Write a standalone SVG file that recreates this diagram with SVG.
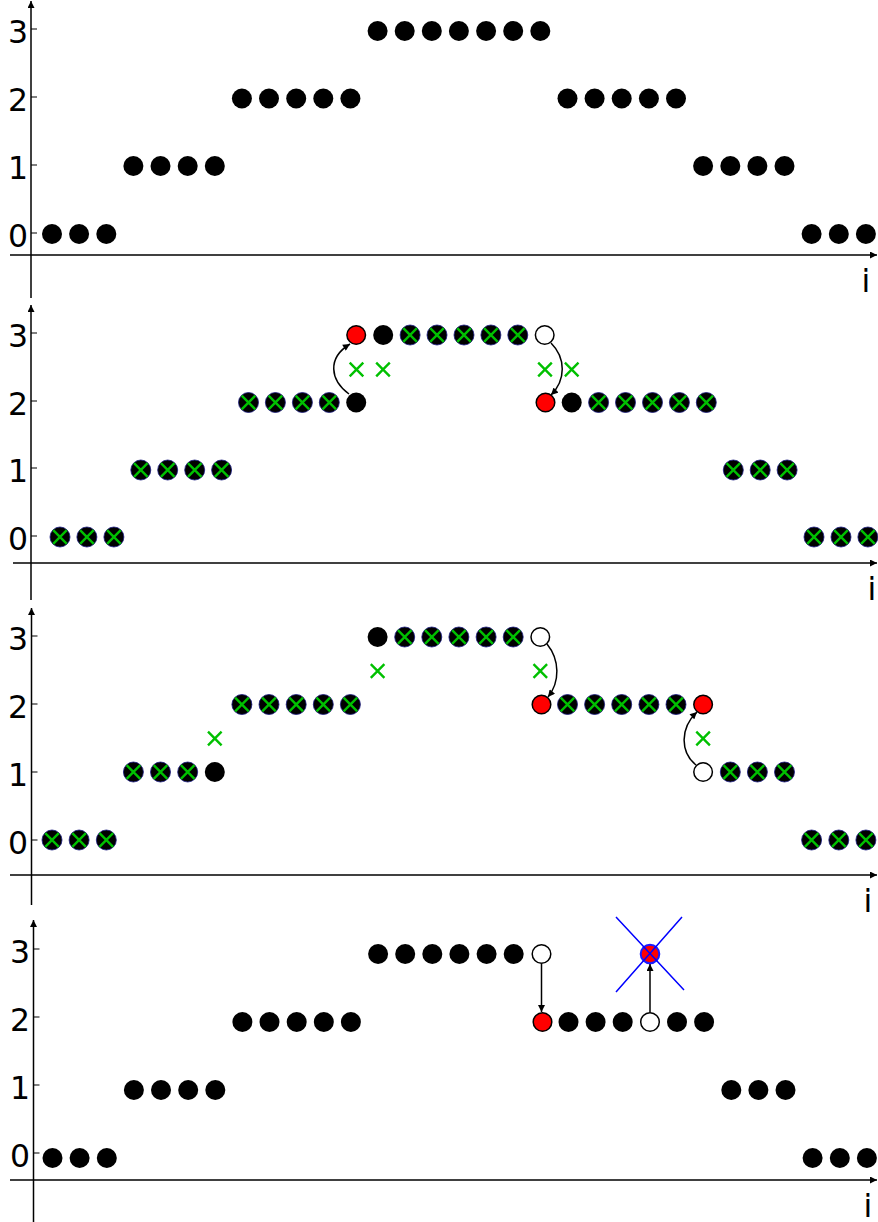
<svg xmlns="http://www.w3.org/2000/svg" xmlns:xlink="http://www.w3.org/1999/xlink" width="878" height="1222" viewBox="0 0 878 1222">
<style>
.ax{stroke:#000;stroke-width:1.5;fill:none}
.tk{stroke:#000;stroke-width:1.2}
.lb{font-family:"DejaVu Sans",sans-serif;font-size:31.5px;fill:#000}
.d{fill:#000}
.dx{fill:#000;stroke:#1a1a80;stroke-width:0.8}
.r{fill:#f00;stroke:#000;stroke-width:1.5}
.w{fill:#fff;stroke:#000;stroke-width:1.5}
.g{stroke:#00c000;stroke-width:2.4;fill:none}
.c{stroke:#000;stroke-width:1.5;fill:none}
</style>
<defs>
<marker id="ah" viewBox="0 0 10 10" refX="10" refY="5" markerWidth="9" markerHeight="7" markerUnits="userSpaceOnUse" orient="auto"><path d="M0,0L10,5L0,10z" fill="#000"/></marker>
<marker id="sa" viewBox="0 0 10 10" refX="10" refY="5" markerWidth="8" markerHeight="7" markerUnits="userSpaceOnUse" orient="auto"><path d="M0,0L10,5L0,10z" fill="#000"/></marker>
<path id="xm" class="g" d="M-6.8,-6.8L6.8,6.8M6.8,-6.8L-6.8,6.8"/>
</defs>

<g id="axes">
<path class="ax" d="M10,255H877" marker-end="url(#ah)"/>
<path class="ax" d="M31,298V1" marker-end="url(#ah)"/>
<path class="ax" d="M13,563H877" marker-end="url(#ah)"/>
<path class="ax" d="M31,600V305" marker-end="url(#ah)"/>
<path class="ax" d="M10,875H877" marker-end="url(#ah)"/>
<path class="ax" d="M31.5,905V608" marker-end="url(#ah)"/>
<path class="ax" d="M10,1180H877" marker-end="url(#ah)"/>
<path class="ax" d="M33.5,1222V920" marker-end="url(#ah)"/>
<path class="tk" d="M31,29h6M31,97h6M31,165h6M31,233h6M31,333h6M31,401h6M31,468h6M31,536h6M31.5,636h6M31.5,704h6M31.5,772h6M31.5,840h6M33.5,949h6M33.5,1017h6M33.5,1085h6M33.5,1153h6"/>
</g>

<g id="labels" class="lb">
<text x="28" y="43" text-anchor="end">3</text>
<text x="28" y="111" text-anchor="end">2</text>
<text x="28" y="179" text-anchor="end">1</text>
<text x="28" y="247" text-anchor="end">0</text>
<text x="866" y="292" text-anchor="middle">i</text>
<text x="28" y="347" text-anchor="end">3</text>
<text x="28" y="415" text-anchor="end">2</text>
<text x="28" y="482" text-anchor="end">1</text>
<text x="28" y="550" text-anchor="end">0</text>
<text x="872" y="600" text-anchor="middle">i</text>
<text x="28" y="650" text-anchor="end">3</text>
<text x="28" y="718" text-anchor="end">2</text>
<text x="28" y="786" text-anchor="end">1</text>
<text x="28" y="854" text-anchor="end">0</text>
<text x="868" y="912" text-anchor="middle">i</text>
<text x="30" y="963" text-anchor="end">3</text>
<text x="30" y="1031" text-anchor="end">2</text>
<text x="30" y="1099" text-anchor="end">1</text>
<text x="30" y="1167" text-anchor="end">0</text>
<text x="868" y="1217" text-anchor="middle">i</text>
</g>

<g id="panel1">
<g id="p1-row0-left"><circle class="d" cx="52" cy="234" r="10"/><circle class="d" cx="79.1" cy="234" r="10"/><circle class="d" cx="106.3" cy="234" r="10"/></g>
<g id="p1-row1-left"><circle class="d" cx="133.4" cy="166" r="10"/><circle class="d" cx="160.5" cy="166" r="10"/><circle class="d" cx="187.7" cy="166" r="10"/><circle class="d" cx="214.8" cy="166" r="10"/></g>
<g id="p1-row2-left"><circle class="d" cx="241.9" cy="98.5" r="10"/><circle class="d" cx="269" cy="98.5" r="10"/><circle class="d" cx="296.2" cy="98.5" r="10"/><circle class="d" cx="323.3" cy="98.5" r="10"/><circle class="d" cx="350.4" cy="98.5" r="10"/></g>
<g id="p1-row3"><circle class="d" cx="377.6" cy="31" r="10"/><circle class="d" cx="404.7" cy="31" r="10"/><circle class="d" cx="431.8" cy="31" r="10"/><circle class="d" cx="458.9" cy="31" r="10"/><circle class="d" cx="486.1" cy="31" r="10"/><circle class="d" cx="513.2" cy="31" r="10"/><circle class="d" cx="540.3" cy="31" r="10"/></g>
<g id="p1-row2-right"><circle class="d" cx="567.5" cy="98.5" r="10"/><circle class="d" cx="594.6" cy="98.5" r="10"/><circle class="d" cx="621.7" cy="98.5" r="10"/><circle class="d" cx="648.9" cy="98.5" r="10"/><circle class="d" cx="676" cy="98.5" r="10"/></g>
<g id="p1-row1-right"><circle class="d" cx="703.1" cy="166" r="10"/><circle class="d" cx="730.3" cy="166" r="10"/><circle class="d" cx="757.4" cy="166" r="10"/><circle class="d" cx="784.5" cy="166" r="10"/></g>
<g id="p1-row0-right"><circle class="d" cx="811.6" cy="234" r="10"/><circle class="d" cx="838.8" cy="234" r="10"/><circle class="d" cx="865.9" cy="234" r="10"/></g>
</g>

<g id="panel2">
<g id="p2-row0-left"><circle class="dx" cx="60" cy="537" r="10"/><use href="#xm" x="60" y="537"/><circle class="dx" cx="86.9" cy="537" r="10"/><use href="#xm" x="86.9" y="537"/><circle class="dx" cx="113.9" cy="537" r="10"/><use href="#xm" x="113.9" y="537"/></g>
<g id="p2-row1-left"><circle class="dx" cx="140.8" cy="470" r="10"/><use href="#xm" x="140.8" y="470"/><circle class="dx" cx="167.7" cy="470" r="10"/><use href="#xm" x="167.7" y="470"/><circle class="dx" cx="194.7" cy="470" r="10"/><use href="#xm" x="194.7" y="470"/><circle class="dx" cx="221.6" cy="470" r="10"/><use href="#xm" x="221.6" y="470"/></g>
<g id="p2-row2-left"><circle class="dx" cx="248.5" cy="402.5" r="10"/><use href="#xm" x="248.5" y="402.5"/><circle class="dx" cx="275.4" cy="402.5" r="10"/><use href="#xm" x="275.4" y="402.5"/><circle class="dx" cx="302.4" cy="402.5" r="10"/><use href="#xm" x="302.4" y="402.5"/><circle class="dx" cx="329.3" cy="402.5" r="10"/><use href="#xm" x="329.3" y="402.5"/></g>
<g id="p2-src-left"><circle class="d" cx="356.2" cy="402.5" r="10"/></g>
<g id="p2-red-left"><circle class="r" cx="356.2" cy="335" r="9.3"/></g>
<g id="p2-row3"><circle class="d" cx="383.2" cy="335" r="10"/><circle class="dx" cx="410.1" cy="335" r="10"/><use href="#xm" x="410.1" y="335"/><circle class="dx" cx="437" cy="335" r="10"/><use href="#xm" x="437" y="335"/><circle class="dx" cx="464" cy="335" r="10"/><use href="#xm" x="464" y="335"/><circle class="dx" cx="490.9" cy="335" r="10"/><use href="#xm" x="490.9" y="335"/><circle class="dx" cx="517.8" cy="335" r="10"/><use href="#xm" x="517.8" y="335"/></g>
<g id="p2-white-right"><circle class="w" cx="544.7" cy="335" r="9.3"/></g>
<g id="p2-red-right"><circle class="r" cx="545.5" cy="402.5" r="9.3"/></g>
<g id="p2-row2-right"><circle class="d" cx="571.7" cy="402.5" r="10"/><circle class="dx" cx="598.6" cy="402.5" r="10"/><use href="#xm" x="598.6" y="402.5"/><circle class="dx" cx="625.5" cy="402.5" r="10"/><use href="#xm" x="625.5" y="402.5"/><circle class="dx" cx="652.5" cy="402.5" r="10"/><use href="#xm" x="652.5" y="402.5"/><circle class="dx" cx="679.4" cy="402.5" r="10"/><use href="#xm" x="679.4" y="402.5"/><circle class="dx" cx="706.3" cy="402.5" r="10"/><use href="#xm" x="706.3" y="402.5"/></g>
<g id="p2-row1-right"><circle class="dx" cx="733.3" cy="470" r="10"/><use href="#xm" x="733.3" y="470"/><circle class="dx" cx="760.2" cy="470" r="10"/><use href="#xm" x="760.2" y="470"/><circle class="dx" cx="787.1" cy="470" r="10"/><use href="#xm" x="787.1" y="470"/></g>
<g id="p2-row0-right"><circle class="dx" cx="814" cy="537" r="10"/><use href="#xm" x="814" y="537"/><circle class="dx" cx="841" cy="537" r="10"/><use href="#xm" x="841" y="537"/><circle class="dx" cx="867.9" cy="537" r="10"/><use href="#xm" x="867.9" y="537"/></g>
<g id="p2-marks"><use href="#xm" x="356.5" y="369.5"/><use href="#xm" x="383" y="369.5"/><use href="#xm" x="545" y="369.5"/><use href="#xm" x="571.7" y="369.5"/></g>
</g>

<g id="panel3">
<g id="p3-row0-left"><circle class="dx" cx="52" cy="840" r="10"/><use href="#xm" x="52" y="840"/><circle class="dx" cx="79.1" cy="840" r="10"/><use href="#xm" x="79.1" y="840"/><circle class="dx" cx="106.3" cy="840" r="10"/><use href="#xm" x="106.3" y="840"/></g>
<g id="p3-row1-left"><circle class="dx" cx="133.4" cy="772" r="10"/><use href="#xm" x="133.4" y="772"/><circle class="dx" cx="160.5" cy="772" r="10"/><use href="#xm" x="160.5" y="772"/><circle class="dx" cx="187.7" cy="772" r="10"/><use href="#xm" x="187.7" y="772"/><circle class="d" cx="214.8" cy="772" r="10"/></g>
<g id="p3-row2-left"><circle class="dx" cx="241.9" cy="704.5" r="10"/><use href="#xm" x="241.9" y="704.5"/><circle class="dx" cx="269" cy="704.5" r="10"/><use href="#xm" x="269" y="704.5"/><circle class="dx" cx="296.2" cy="704.5" r="10"/><use href="#xm" x="296.2" y="704.5"/><circle class="dx" cx="323.3" cy="704.5" r="10"/><use href="#xm" x="323.3" y="704.5"/><circle class="dx" cx="350.4" cy="704.5" r="10"/><use href="#xm" x="350.4" y="704.5"/></g>
<g id="p3-row3"><circle class="d" cx="377.6" cy="637" r="10"/><circle class="dx" cx="404.7" cy="637" r="10"/><use href="#xm" x="404.7" y="637"/><circle class="dx" cx="431.8" cy="637" r="10"/><use href="#xm" x="431.8" y="637"/><circle class="dx" cx="458.9" cy="637" r="10"/><use href="#xm" x="458.9" y="637"/><circle class="dx" cx="486.1" cy="637" r="10"/><use href="#xm" x="486.1" y="637"/><circle class="dx" cx="513.2" cy="637" r="10"/><use href="#xm" x="513.2" y="637"/></g>
<g id="p3-white-top"><circle class="w" cx="540.3" cy="637" r="9.3"/></g>
<g id="p3-red-left"><circle class="r" cx="541.5" cy="704.5" r="9.3"/></g>
<g id="p3-row2-right"><circle class="dx" cx="567.5" cy="704.5" r="10"/><use href="#xm" x="567.5" y="704.5"/><circle class="dx" cx="594.6" cy="704.5" r="10"/><use href="#xm" x="594.6" y="704.5"/><circle class="dx" cx="621.7" cy="704.5" r="10"/><use href="#xm" x="621.7" y="704.5"/><circle class="dx" cx="648.9" cy="704.5" r="10"/><use href="#xm" x="648.9" y="704.5"/><circle class="dx" cx="676" cy="704.5" r="10"/><use href="#xm" x="676" y="704.5"/></g>
<g id="p3-red-right"><circle class="r" cx="703.1" cy="704.5" r="9.3"/></g>
<g id="p3-white-bottom"><circle class="w" cx="703.1" cy="772" r="9.3"/></g>
<g id="p3-row1-right"><circle class="dx" cx="730.3" cy="772" r="10"/><use href="#xm" x="730.3" y="772"/><circle class="dx" cx="757.4" cy="772" r="10"/><use href="#xm" x="757.4" y="772"/><circle class="dx" cx="784.5" cy="772" r="10"/><use href="#xm" x="784.5" y="772"/></g>
<g id="p3-row0-right"><circle class="dx" cx="811.6" cy="840" r="10"/><use href="#xm" x="811.6" y="840"/><circle class="dx" cx="838.8" cy="840" r="10"/><use href="#xm" x="838.8" y="840"/><circle class="dx" cx="865.9" cy="840" r="10"/><use href="#xm" x="865.9" y="840"/></g>
<g id="p3-marks"><use href="#xm" x="214.8" y="738.5"/><use href="#xm" x="377.6" y="671"/><use href="#xm" x="540.3" y="671"/><use href="#xm" x="703.1" y="738.5"/></g>
</g>

<g id="panel4">
<g id="p4-row0-left"><circle class="d" cx="52.5" cy="1158" r="10"/><circle class="d" cx="79.6" cy="1158" r="10"/><circle class="d" cx="106.8" cy="1158" r="10"/></g>
<g id="p4-row1-left"><circle class="d" cx="133.9" cy="1090" r="10"/><circle class="d" cx="161" cy="1090" r="10"/><circle class="d" cx="188.2" cy="1090" r="10"/><circle class="d" cx="215.3" cy="1090" r="10"/></g>
<g id="p4-row2-left"><circle class="d" cx="242.4" cy="1022" r="10"/><circle class="d" cx="269.5" cy="1022" r="10"/><circle class="d" cx="296.7" cy="1022" r="10"/><circle class="d" cx="323.8" cy="1022" r="10"/><circle class="d" cx="350.9" cy="1022" r="10"/></g>
<g id="p4-row3"><circle class="d" cx="378.1" cy="954" r="10"/><circle class="d" cx="405.2" cy="954" r="10"/><circle class="d" cx="432.3" cy="954" r="10"/><circle class="d" cx="459.4" cy="954" r="10"/><circle class="d" cx="486.6" cy="954" r="10"/><circle class="d" cx="513.7" cy="954" r="10"/></g>
<g id="p4-white-top"><circle class="w" cx="541.5" cy="954" r="9.3"/></g>
<g id="p4-red"><circle class="r" cx="542.5" cy="1022" r="9.3"/></g>
<g id="p4-row2-right-a"><circle class="d" cx="568.5" cy="1022" r="10"/><circle class="d" cx="595.6" cy="1022" r="10"/><circle class="d" cx="622.7" cy="1022" r="10"/></g>
<g id="p4-white-bottom"><circle class="w" cx="650" cy="1022" r="9.3"/></g>
<g id="p4-row2-right-b"><circle class="d" cx="677" cy="1022" r="10"/><circle class="d" cx="704.1" cy="1022" r="10"/></g>
<g id="p4-crossed"><circle cx="650" cy="954" r="9.3" fill="#f00" stroke="#1a1aff" stroke-width="2"/><path d="M616,917L684,990M682,917L616,992" stroke="#0000ff" stroke-width="1.5" fill="none"/></g>
<g id="p4-row1-right"><circle class="d" cx="731.3" cy="1090" r="10"/><circle class="d" cx="758.4" cy="1090" r="10"/><circle class="d" cx="785.5" cy="1090" r="10"/></g>
<g id="p4-row0-right"><circle class="d" cx="812.6" cy="1158" r="10"/><circle class="d" cx="839.8" cy="1158" r="10"/><circle class="d" cx="866.9" cy="1158" r="10"/></g>
</g>

<g id="connectors">
<path class="c" d="M349,394C330,380 327,358 350,344" marker-end="url(#sa)"/>
<path class="c" d="M551,343C566,358 566,380 551,395" marker-end="url(#sa)"/>
<path class="c" d="M547,644C560,660 560,682 548,697" marker-end="url(#sa)"/>
<path class="c" d="M696,765C680,752 680,728 697,712" marker-end="url(#sa)"/>
<path class="c" d="M541.5,963.5V1012" marker-end="url(#sa)"/>
<path class="c" d="M650,1012.5V964" marker-end="url(#sa)"/>
</g>
</svg>
